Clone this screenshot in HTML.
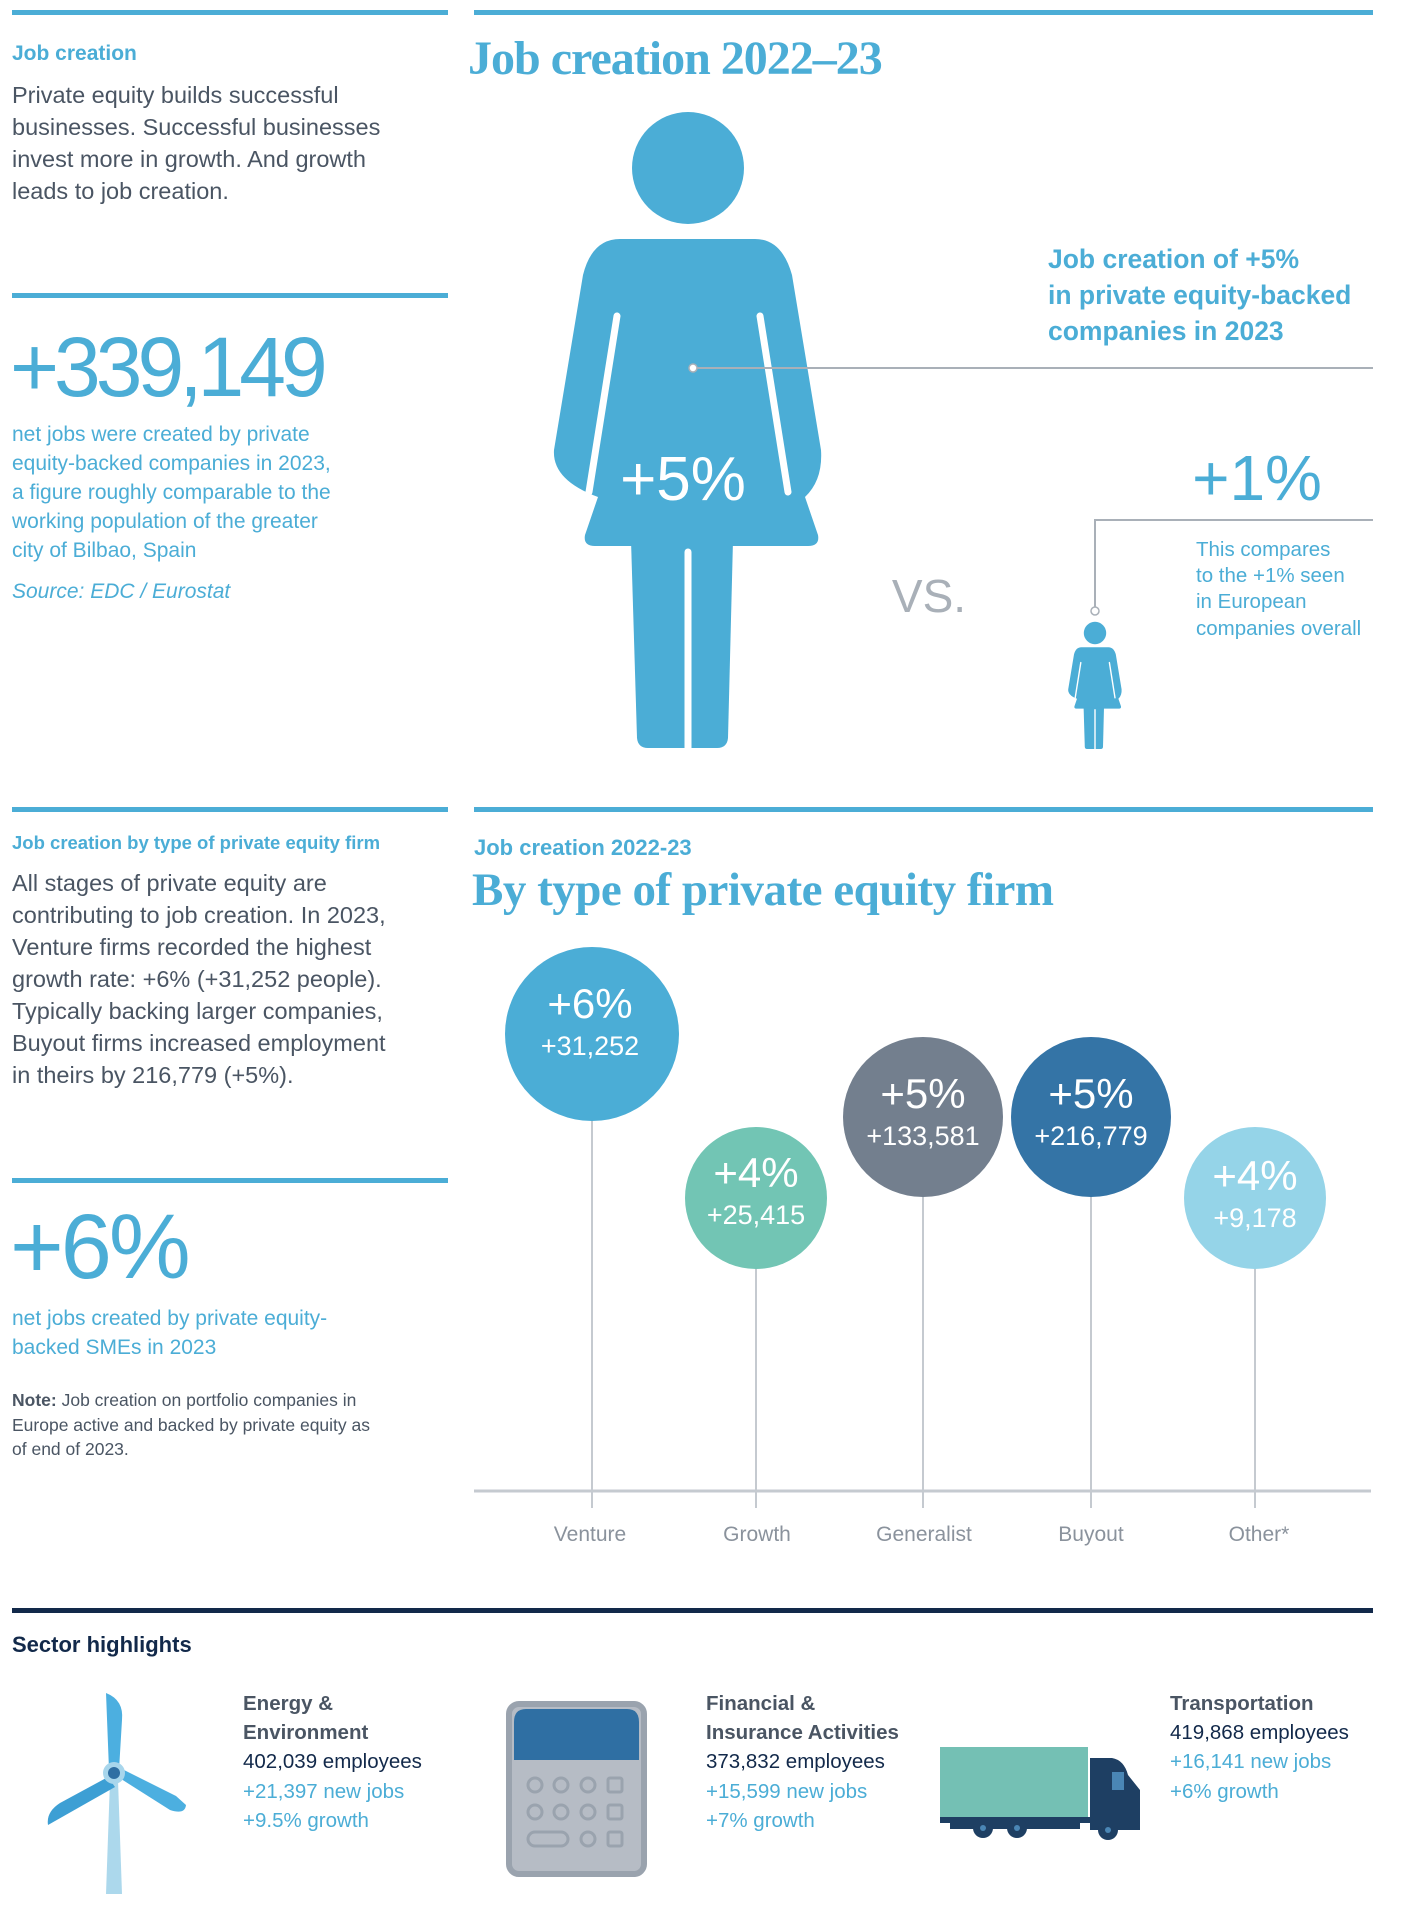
<!DOCTYPE html>
<html><head><meta charset="utf-8"><style>
html,body{margin:0;padding:0;background:#fff;}
svg{display:block;}
text{font-family:"Liberation Sans",sans-serif;}
.s{font-family:"Liberation Serif",serif;font-weight:bold;}
</style></head><body>
<svg width="1410" height="1918" viewBox="0 0 1410 1918" xmlns="http://www.w3.org/2000/svg">
<rect x="12" y="10" width="436" height="5" fill="#4badd6"/>
<rect x="474" y="10" width="899" height="5" fill="#4badd6"/>
<text x="12" y="60" font-size="21" font-weight="bold" fill="#4badd6">Job creation</text>
<g font-size="23.5" fill="#4a5563">
<text x="12" y="103">Private equity builds successful</text>
<text x="12" y="135">businesses. Successful businesses</text>
<text x="12" y="167">invest more in growth. And growth</text>
<text x="12" y="199">leads to job creation.</text>
</g>
<rect x="12" y="293" width="436" height="5" fill="#4badd6"/>
<text x="10" y="396" font-size="84" fill="#4badd6" letter-spacing="-5" font-weight="300">+339,149</text>
<g font-size="21" fill="#4badd6">
<text x="12" y="441">net jobs were created by private</text>
<text x="12" y="470">equity-backed companies in 2023,</text>
<text x="12" y="499">a figure roughly comparable to the</text>
<text x="12" y="528">working population of the greater</text>
<text x="12" y="557">city of Bilbao, Spain</text>
<text x="12" y="598" font-style="italic">Source: EDC / Eurostat</text>
</g>
<text x="468" y="74" class="s" font-size="48" fill="#4badd6" letter-spacing="-1">Job creation 2022–23</text>

<g id="w" fill="#4badd6">
<circle cx="688" cy="168" r="56"/>
<path d="M620,239 L755,239 Q782,239 792,275 L821,450 Q823,480 805,497 L818,535 Q820,546 808,546 L595,546 Q583,546 585,535 L598,497 Q552,480 554,450 L583,275 Q592,239 620,239 Z"/>
<path d="M631,540 L733,540 L728,738 Q727,748 717,748 L648,748 Q638,748 637,738 Z"/>
<line x1="617" y1="316" x2="589" y2="492" stroke="#fff" stroke-width="7" stroke-linecap="round"/>
<line x1="760" y1="316" x2="788" y2="492" stroke="#fff" stroke-width="7" stroke-linecap="round"/>
<line x1="688" y1="552" x2="688" y2="752" stroke="#fff" stroke-width="7" stroke-linecap="round"/>
</g>
<line x1="697" y1="368" x2="1373" y2="368" stroke="#a9b0b8" stroke-width="2"/>
<circle cx="693" cy="368" r="4" fill="#fff" stroke="#a9b0b8" stroke-width="1.5"/>
<text x="683" y="500" font-size="62" fill="#fff" text-anchor="middle">+5%</text>
<g font-size="26.5" font-weight="bold" fill="#4badd6">
<text x="1048" y="268">Job creation of +5%</text>
<text x="1048" y="304">in private equity-backed</text>
<text x="1048" y="340">companies in 2023</text>
</g>
<text x="929" y="612" font-size="46" fill="#a9b0b8" text-anchor="middle">VS.</text>
<text x="1257" y="500" font-size="64" fill="#4badd6" text-anchor="middle">+1%</text>
<path d="M1095,607 L1095,520 L1373,520" fill="none" stroke="#a9b0b8" stroke-width="2"/>
<circle cx="1095" cy="611" r="4" fill="#fff" stroke="#a9b0b8" stroke-width="1.5"/>
<g transform="translate(1095,633) scale(0.2) translate(-688,-168)">
<use href="#w"/>
</g>
<g font-size="20.5" fill="#4badd6">
<text x="1196" y="556">This compares</text>
<text x="1196" y="582">to the +1% seen</text>
<text x="1196" y="608">in European</text>
<text x="1196" y="635">companies overall</text>
</g>

<rect x="12" y="807" width="436" height="5" fill="#4badd6"/>
<rect x="474" y="807" width="899" height="5" fill="#4badd6"/>
<text x="12" y="849" font-size="18.5" font-weight="bold" fill="#4badd6">Job creation by type of private equity firm</text>
<g font-size="23.5" fill="#4a5563">
<text x="12" y="891">All stages of private equity are</text>
<text x="12" y="923">contributing to job creation. In 2023,</text>
<text x="12" y="955">Venture firms recorded the highest</text>
<text x="12" y="987">growth rate: +6% (+31,252 people).</text>
<text x="12" y="1019">Typically backing larger companies,</text>
<text x="12" y="1051">Buyout firms increased employment</text>
<text x="12" y="1083">in theirs by 216,779 (+5%).</text>
</g>
<rect x="12" y="1178" width="436" height="5" fill="#4badd6"/>
<text x="10" y="1278" font-size="92" fill="#4badd6" letter-spacing="-3">+6%</text>
<g font-size="21" fill="#4badd6">
<text x="12" y="1325">net jobs created by private equity-</text>
<text x="12" y="1354">backed SMEs in 2023</text>
</g>
<g font-size="17.5" fill="#4a5563">
<text x="12" y="1406"><tspan font-weight="bold">Note:</tspan> Job creation on portfolio companies in</text>
<text x="12" y="1431">Europe active and backed by private equity as</text>
<text x="12" y="1455">of end of 2023.</text>
</g>
<text x="474" y="855" font-size="22" font-weight="bold" fill="#4badd6">Job creation 2022-23</text>
<text x="472" y="905" class="s" font-size="47" fill="#4badd6" letter-spacing="-0.5">By type of private equity firm</text>

<g stroke="#c5cad0" stroke-width="2">
<line x1="592" y1="1100" x2="592" y2="1508"/>
<line x1="756" y1="1240" x2="756" y2="1508"/>
<line x1="923" y1="1180" x2="923" y2="1508"/>
<line x1="1091" y1="1180" x2="1091" y2="1508"/>
<line x1="1255" y1="1240" x2="1255" y2="1508"/>
</g>
<line x1="474" y1="1491" x2="1371" y2="1491" stroke="#c5cad0" stroke-width="3"/>
<circle cx="592" cy="1034" r="87" fill="#4badd6"/>
<circle cx="756" cy="1198" r="71" fill="#72c5b4"/>
<circle cx="923" cy="1117" r="80" fill="#737f8e"/>
<circle cx="1091" cy="1117" r="80" fill="#3474a6"/>
<circle cx="1255" cy="1198" r="71" fill="#95d4e8"/>
<g fill="#fff" text-anchor="middle">
<text x="590" y="1018" font-size="42">+6%</text><text x="590" y="1055" font-size="27">+31,252</text>
<text x="756" y="1187" font-size="42">+4%</text><text x="756" y="1224" font-size="27">+25,415</text>
<text x="923" y="1108" font-size="42">+5%</text><text x="923" y="1145" font-size="27">+133,581</text>
<text x="1091" y="1108" font-size="42">+5%</text><text x="1091" y="1145" font-size="27">+216,779</text>
<text x="1255" y="1190" font-size="42">+4%</text><text x="1255" y="1227" font-size="27">+9,178</text>
</g>
<g font-size="21" fill="#8a929c" text-anchor="middle">
<text x="590" y="1541">Venture</text><text x="757" y="1541">Growth</text><text x="924" y="1541">Generalist</text><text x="1091" y="1541">Buyout</text><text x="1259" y="1541">Other*</text>
</g>

<rect x="12" y="1608" width="1361" height="5" fill="#12294a"/>
<text x="12" y="1652" font-size="22" font-weight="bold" fill="#12294a">Sector highlights</text>

<path d="M110,1780 L118,1780 L122,1894 L106,1894 Z" fill="#acd8ec"/>
<path d="M106,1693 Q124,1700 122,1720 L119,1770 L109,1770 Z" fill="#4cafe0"/>
<path d="M108,1777 L60,1803 Q46,1812 48,1825 L115,1787 Z" fill="#3d9fd4"/>
<path d="M118,1777 L170,1810 Q185,1815 186,1805 L176,1796 L120,1768 Z" fill="#4cafe0"/>
<circle cx="114" cy="1773" r="11" fill="#a8d6ec"/>
<circle cx="114" cy="1773" r="6" fill="#2f6fa3"/>

<rect x="509" y="1704" width="135" height="170" rx="10" fill="#b6bcc5" stroke="#9aa3ae" stroke-width="6"/>
<path d="M514,1722 Q514,1709 526,1709 L627,1709 Q639,1709 639,1722 L639,1760 L514,1760 Z" fill="#2f6fa3"/>
<g fill="none" stroke="#9aa3ae" stroke-width="3">
<circle cx="535" cy="1785" r="7"/><circle cx="561" cy="1785" r="7"/><circle cx="588" cy="1785" r="7"/><rect x="608" y="1778" width="14" height="14" rx="2"/>
<circle cx="535" cy="1812" r="7"/><circle cx="561" cy="1812" r="7"/><circle cx="588" cy="1812" r="7"/><rect x="608" y="1805" width="14" height="14" rx="2"/>
<rect x="528" y="1832" width="40" height="14" rx="7"/><circle cx="588" cy="1839" r="7"/><rect x="608" y="1832" width="14" height="14" rx="2"/>
</g>

<rect x="940" y="1747" width="148" height="70" fill="#74c0b4"/>
<rect x="940" y="1817" width="150" height="6" fill="#1e3f63"/>
<path d="M1090,1758 L1112,1758 Q1124,1760 1128,1775 L1140,1790 L1140,1830 L1090,1830 Z" fill="#1e3f63"/>
<rect x="1112" y="1772" width="12" height="18" fill="#4a86b5"/>
<rect x="950" y="1823" width="130" height="6" fill="#1e3f63"/>
<g fill="#1e3f63"><circle cx="983" cy="1828" r="10"/><circle cx="1017" cy="1828" r="10"/><circle cx="1108" cy="1830" r="10"/></g>
<g fill="#4a86b5"><circle cx="983" cy="1828" r="3"/><circle cx="1017" cy="1828" r="3"/><circle cx="1108" cy="1830" r="3"/></g>

<g font-size="20.5">
<text x="243" y="1710" font-weight="bold" fill="#4a5563">Energy &amp;</text>
<text x="243" y="1739" font-weight="bold" fill="#4a5563">Environment</text>
<text x="243" y="1768" fill="#12294a">402,039 employees</text>
<text x="243" y="1798" fill="#4badd6">+21,397 new jobs</text>
<text x="243" y="1827" fill="#4badd6">+9.5% growth</text>
<text x="706" y="1710" font-weight="bold" fill="#4a5563">Financial &amp;</text>
<text x="706" y="1739" font-weight="bold" fill="#4a5563">Insurance Activities</text>
<text x="706" y="1768" fill="#12294a">373,832 employees</text>
<text x="706" y="1798" fill="#4badd6">+15,599 new jobs</text>
<text x="706" y="1827" fill="#4badd6">+7% growth</text>
<text x="1170" y="1710" font-weight="bold" fill="#4a5563">Transportation</text>
<text x="1170" y="1739" fill="#12294a">419,868 employees</text>
<text x="1170" y="1768" fill="#4badd6">+16,141 new jobs</text>
<text x="1170" y="1798" fill="#4badd6">+6% growth</text>
</g>
</svg>
</body></html>
